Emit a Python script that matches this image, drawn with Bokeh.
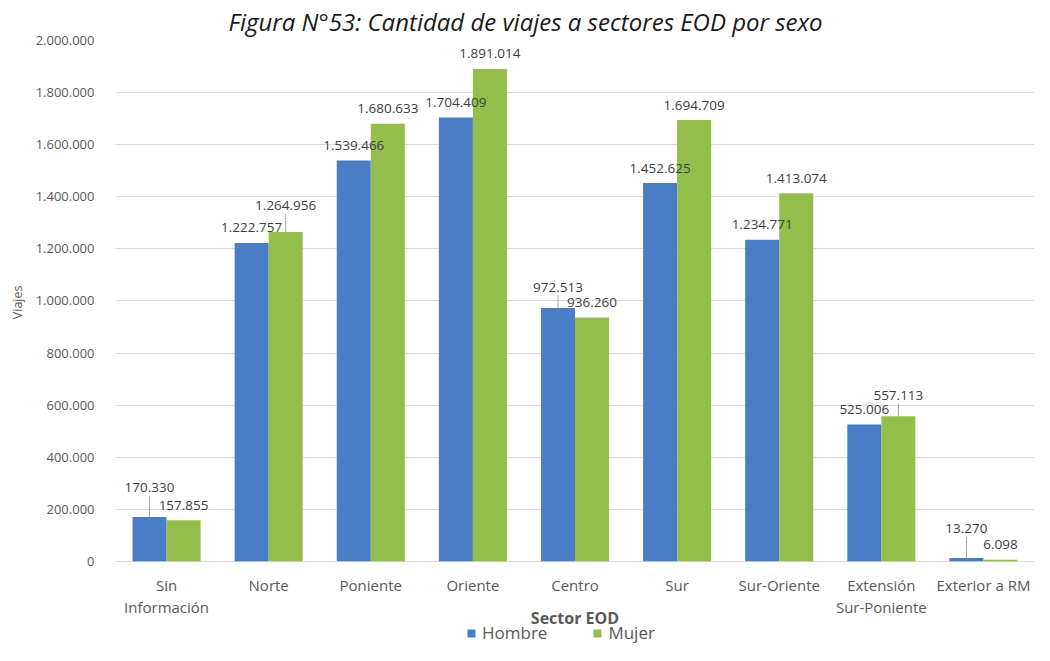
from bokeh.plotting import figure
from bokeh.models import (FactorRange, Range1d, FixedTicker, Legend,
                          LegendItem, Title, ColumnDataSource)
from bokeh.transform import dodge
from bokeh.core.properties import value
from bokeh.embed import file_html
from bokeh.resources import INLINE

# ---------------- data ----------------
categories = ["Sin Información", "Norte", "Poniente", "Oriente", "Centro",
              "Sur", "Sur-Oriente", "Extensión Sur-Poniente", "Exterior a RM"]
label_line1 = ["Sin", "Norte", "Poniente", "Oriente", "Centro",
               "Sur", "Sur-Oriente", "Extensión", "Exterior a RM"]
label_line2 = ["Información", "", "", "", "", "", "", "Sur-Poniente", ""]
hombre = [170330, 1222757, 1539466, 1704409, 972513, 1452625, 1234771, 525006, 13270]
mujer = [157855, 1264956, 1680633, 1891014, 936260, 1694709, 1413074, 557113, 6098]
y_ticks = [0, 200000, 400000, 600000, 800000, 1000000, 1200000, 1400000,
           1600000, 1800000, 2000000]
y_tick_labels = ["0", "200.000", "400.000", "600.000", "800.000", "1.000.000",
                 "1.200.000", "1.400.000", "1.600.000", "1.800.000", "2.000.000"]
series_names = ["Hombre", "Mujer"]
x_title = "Sector EOD"
y_title = "Viajes"

# ---------------- layout / style ----------------
hombre_lift = [14, 0, 0, 0, 6, 0, 0, 0, 14]   # extra px of moved data labels
mujer_lift = [0, 11, 0, 0, 0, 0, 0, 6, 0]
FONT = "Open Sans"
BLUE = "#4A7DC6"
GREEN = "#94BE4C"
GREY = "#595959"

W, H = 1034, 645
MB_L, MB_R, MB_T, MB_B = 107, 0, 34, 0
FRAME_H = H - MB_T - MB_B
PLOT_H = 526                      # px between value 0 and the top tick
Y1 = y_ticks[-1]
Y0 = -Y1 * (FRAME_H - PLOT_H) / PLOT_H   # room below the bars for the axis texts
units_per_px = Y1 / PLOT_H


def fmt(v):
    return f"{v:,}".replace(",", ".")


p = figure(x_range=FactorRange(*categories), y_range=Range1d(Y0, Y1),
           width=W, height=H, output_backend="svg", toolbar_location=None,
           x_axis_location=None,
           min_border_left=MB_L, min_border_right=MB_R,
           min_border_top=MB_T, min_border_bottom=MB_B)
p.outline_line_color = None
p.background_fill_color = "white"
p.border_fill_color = "white"

# title
p.title = Title(text="Figura N°53: Cantidad de viajes a sectores EOD por sexo",
                align="left", offset=113, standoff=5,
                text_font=FONT, text_font_size="24px", text_font_style="italic",
                text_color="#1a1a1a")

# y axis
p.yaxis.ticker = FixedTicker(ticks=y_ticks)
p.yaxis.major_label_overrides = {t: l for t, l in zip(y_ticks, y_tick_labels)}
p.yaxis.major_label_text_font = FONT
p.yaxis.major_label_text_font_size = "13px"
p.yaxis.major_label_text_color = GREY
p.yaxis.major_label_standoff = 15
p.yaxis.axis_line_color = None
p.yaxis.major_tick_line_color = None
p.yaxis.minor_tick_line_color = None

p.add_layout(Title(text=y_title, align="right", offset=245, standoff=13,
                   text_font=FONT, text_font_size="12.5px",
                   text_font_style="normal", text_color=GREY), "left")

p.xgrid.visible = False
p.ygrid.grid_line_color = "#D9D9D9"
p.ygrid.grid_line_width = 1

# bars
src = ColumnDataSource(dict(
    cat=categories, hombre=hombre, mujer=mujer,
    h_txt=[fmt(v) for v in hombre], m_txt=[fmt(v) for v in mujer],
    h_off=[-(15 + l) for l in hombre_lift], m_off=[-(15 + l) for l in mujer_lift],
    l1=label_line1, l2=label_line2, zero=[0] * len(categories),
))
BAR_W = 1 / 3
DX = BAR_W / 2
rh = p.vbar(x=dodge("cat", -DX, range=p.x_range), top="hombre", width=BAR_W,
            source=src, fill_color=BLUE, line_color=None)
rm = p.vbar(x=dodge("cat", DX, range=p.x_range), top="mujer", width=BAR_W,
            source=src, fill_color=GREEN, line_color=None)

# leader lines for moved labels
for vals, lifts, side in ((hombre, hombre_lift, -DX), (mujer, mujer_lift, DX)):
    xs, y0s, y1s = [], [], []
    for c, v, l in zip(categories, vals, lifts):
        if l > 0:
            xs.append(c)
            y0s.append(v)
            y1s.append(v + (15 + l - 8) * units_per_px)
    s = ColumnDataSource(dict(x=xs, y0=y0s, y1=y1s))
    p.segment(x0=dodge("x", side, range=p.x_range), y0="y0",
              x1=dodge("x", side, range=p.x_range), y1="y1",
              source=s, line_color="#A6A6A6", line_width=1)

# data labels
for col, txt, off, d in (("hombre", "h_txt", "h_off", -DX), ("mujer", "m_txt", "m_off", DX)):
    p.text(x=dodge("cat", d, range=p.x_range), y=col, text=txt, source=src,
           y_offset=off, text_align="center", text_baseline="middle",
           text_font=value(FONT), text_font_size="13.5px", text_color="#404040")

# category labels (two lines) below the baseline
for col, off in (("l1", 24), ("l2", 46)):
    p.text(x="cat", y="zero", text=col, source=src, y_offset=off,
           text_align="center", text_baseline="middle",
           text_font=value(FONT), text_font_size="15px", text_color=GREY)

# x axis title, centred on the plot
p.text(x=[categories[len(categories) // 2]], y=[0], text=[x_title], y_offset=57,
       text_align="center", text_baseline="middle", text_font=value(FONT),
       text_font_size="16px", text_font_style="bold", text_color=GREY)

# legend
legend = Legend(items=[LegendItem(label=series_names[0], renderers=[rh]),
                       LegendItem(label=series_names[1], renderers=[rm])],
                orientation="horizontal", location=(351, 1),
                glyph_width=10, glyph_height=10, label_height=10,
                label_standoff=6, spacing=45, padding=0, margin=0,
                border_line_color=None, background_fill_alpha=0,
                label_text_font=FONT, label_text_font_size="17px",
                label_text_color=GREY)
p.add_layout(legend, "center")

open("out.html", "w").write(file_html(p, INLINE))
